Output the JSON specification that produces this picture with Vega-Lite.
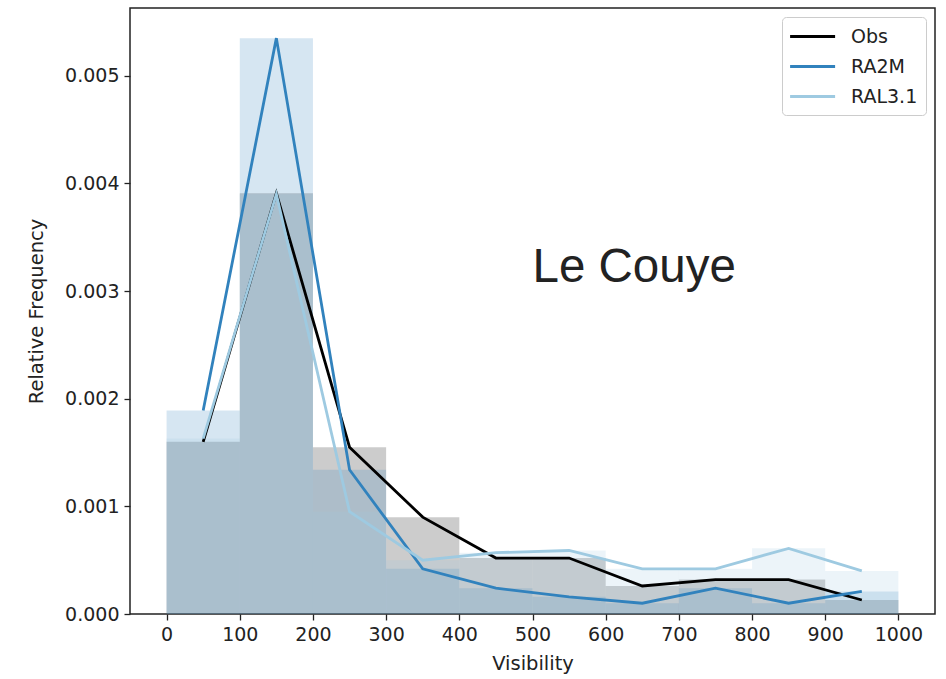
{
  "$schema": "https://vega.github.io/schema/vega-lite/v6.json",
  "width": 805,
  "height": 606,
  "autosize": "none",
  "padding": {"left": 130, "top": 8, "right": 11, "bottom": 65},
  "background": "white",
  "config": {
    "view": {"stroke": "#222222", "strokeWidth": 1.5},
    "font": "DejaVu Sans",
    "axis": {
      "grid": false,
      "domain": false,
      "tickColor": "#222222",
      "tickSize": 6,
      "tickWidth": 1.3,
      "labelFont": "DejaVu Sans",
      "labelFontSize": 19,
      "labelColor": "#222222",
      "titleFont": "DejaVu Sans",
      "titleFontSize": 19.5,
      "titleFontWeight": "normal",
      "titleColor": "#222222"
    }
  },
  "data": {
    "values": [
      {"model": "Obs", "lo": 0, "hi": 100, "freq": 0.0016},
      {"model": "Obs", "lo": 100, "hi": 200, "freq": 0.00391},
      {"model": "Obs", "lo": 200, "hi": 300, "freq": 0.00155},
      {"model": "Obs", "lo": 300, "hi": 400, "freq": 0.0009},
      {"model": "Obs", "lo": 400, "hi": 500, "freq": 0.00052},
      {"model": "Obs", "lo": 500, "hi": 600, "freq": 0.00052},
      {"model": "Obs", "lo": 600, "hi": 700, "freq": 0.00026},
      {"model": "Obs", "lo": 700, "hi": 800, "freq": 0.00032},
      {"model": "Obs", "lo": 800, "hi": 900, "freq": 0.00032},
      {"model": "Obs", "lo": 900, "hi": 1000, "freq": 0.00013},
      {"model": "RA2M", "lo": 0, "hi": 100, "freq": 0.00189},
      {"model": "RA2M", "lo": 100, "hi": 200, "freq": 0.00535},
      {"model": "RA2M", "lo": 200, "hi": 300, "freq": 0.00134},
      {"model": "RA2M", "lo": 300, "hi": 400, "freq": 0.00042},
      {"model": "RA2M", "lo": 400, "hi": 500, "freq": 0.00024},
      {"model": "RA2M", "lo": 500, "hi": 600, "freq": 0.00016},
      {"model": "RA2M", "lo": 600, "hi": 700, "freq": 0.0001},
      {"model": "RA2M", "lo": 700, "hi": 800, "freq": 0.00024},
      {"model": "RA2M", "lo": 800, "hi": 900, "freq": 0.0001},
      {"model": "RA2M", "lo": 900, "hi": 1000, "freq": 0.00021},
      {"model": "RAL3.1", "lo": 0, "hi": 100, "freq": 0.00163},
      {"model": "RAL3.1", "lo": 100, "hi": 200, "freq": 0.0039},
      {"model": "RAL3.1", "lo": 200, "hi": 300, "freq": 0.00095},
      {"model": "RAL3.1", "lo": 300, "hi": 400, "freq": 0.0005},
      {"model": "RAL3.1", "lo": 400, "hi": 500, "freq": 0.00057},
      {"model": "RAL3.1", "lo": 500, "hi": 600, "freq": 0.00059},
      {"model": "RAL3.1", "lo": 600, "hi": 700, "freq": 0.00042},
      {"model": "RAL3.1", "lo": 700, "hi": 800, "freq": 0.00042},
      {"model": "RAL3.1", "lo": 800, "hi": 900, "freq": 0.00061},
      {"model": "RAL3.1", "lo": 900, "hi": 1000, "freq": 0.0004}
    ]
  },
  "layer": [
    {
      "mark": {"type": "rect", "fillOpacity": 0.2},
      "encoding": {
        "x": {"field": "lo", "type": "quantitative",
              "scale": {"domain": [-50, 1050], "nice": false, "zero": false},
              "axis": {"values": [0, 100, 200, 300, 400, 500, 600, 700, 800, 900, 1000], "format": "d", "title": "Visibility", "titlePadding": 10, "labelPadding": 5}},
        "x2": {"field": "hi"},
        "y": {"field": "freq", "type": "quantitative",
              "scale": {"domain": [0, 0.00563], "nice": false},
              "axis": {"values": [0, 0.001, 0.002, 0.003, 0.004, 0.005], "format": ".3f", "title": "Relative Frequency", "titlePadding": 18, "labelPadding": 5}},
        "y2": {"datum": 0},
        "fill": {"field": "model", "type": "nominal",
                 "scale": {"domain": ["RAL3.1", "RA2M", "Obs"], "range": ["#9ecae1", "#3182bd", "#000000"]},
                 "legend": null}
      }
    },
    {
      "transform": [{"calculate": "(datum.lo + datum.hi) / 2", "as": "mid"}],
      "mark": {"type": "line", "strokeWidth": 2.8},
      "encoding": {
        "x": {"field": "mid", "type": "quantitative"},
        "y": {"field": "freq", "type": "quantitative"},
        "stroke": {"field": "model", "type": "nominal",
                   "scale": {"domain": ["Obs", "RA2M", "RAL3.1"], "range": ["#000000", "#3182bd", "#9ecae1"]},
                   "legend": {
                     "title": null,
                     "orient": "top-right",
                     "offset": 9,
                     "padding": 8,
                     "fillColor": "rgba(255,255,255,0.8)",
                     "strokeColor": "#cccccc",
                     "cornerRadius": 4,
                     "symbolType": "M-1.14,0H3.36",
                     "symbolSize": 400,
                     "symbolStrokeWidth": 2.8,
                     "symbolOpacity": 1,
                     "labelFont": "DejaVu Sans",
                     "labelFontSize": 19,
                     "labelColor": "#222222",
                     "labelOffset": 38,
                     "rowPadding": 8
                   }}
      }
    },
    {
      "data": {"values": [{"site": "Le Couye", "vis": 500, "rf": 0.00308}]},
      "mark": {"type": "text", "font": "Liberation Sans", "fontSize": 47.5, "align": "left", "baseline": "alphabetic", "color": "#222222"},
      "encoding": {
        "x": {"field": "vis", "type": "quantitative"},
        "y": {"field": "rf", "type": "quantitative"},
        "text": {"field": "site"}
      }
    }
  ]
}
